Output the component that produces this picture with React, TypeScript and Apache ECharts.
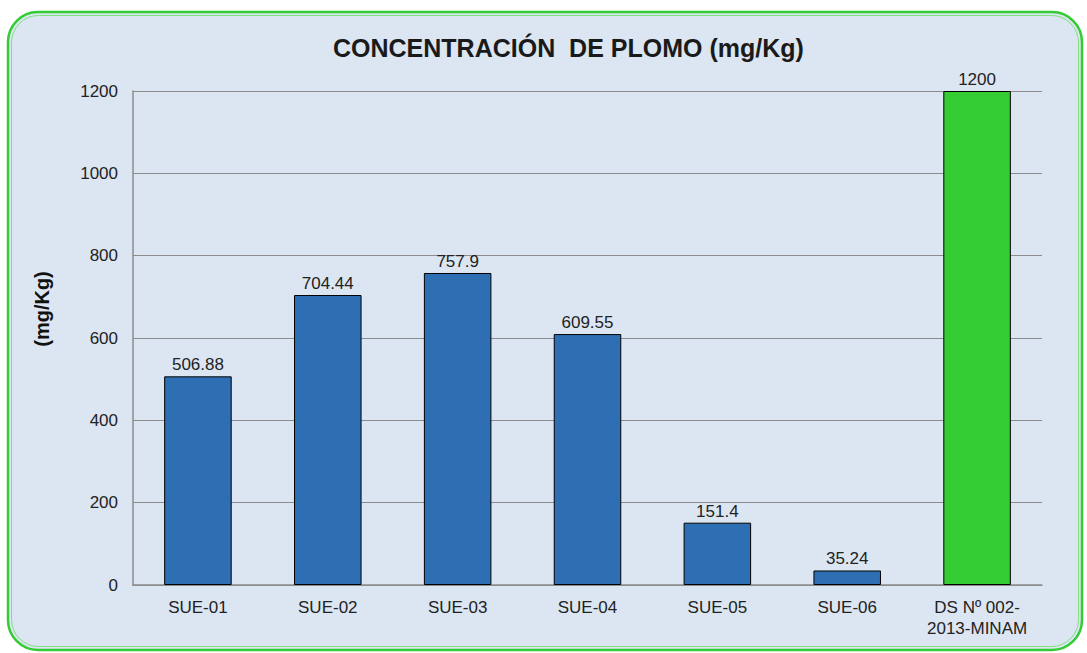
import React, { useEffect, useRef } from "react";
import * as echarts from "echarts";

const categories = ["SUE-01", "SUE-02", "SUE-03", "SUE-04", "SUE-05", "SUE-06", "DS Nº 002-\n2013-MINAM"];
const values = [506.88, 704.44, 757.9, 609.55, 151.4, 35.24, 1200];
const barColors = ["#2e6fb4", "#2e6fb4", "#2e6fb4", "#2e6fb4", "#2e6fb4", "#2e6fb4", "#33cc33"];
const titleText = "CONCENTRACIÓN  DE PLOMO (mg/Kg)";
const yAxisName = "(mg/Kg)";
const topText = "(mg/Kg)";

export default function App() {
  const ref = useRef<HTMLDivElement>(null);
  useEffect(() => {
    if (!ref.current) return;
    const chart = echarts.init(ref.current, null, { renderer: "svg" });
    const font = "'Liberation Sans', Arial, sans-serif";
    chart.setOption({
      animation: false,
      backgroundColor: "#ffffff",
      textStyle: { fontFamily: font },
      graphic: [
        {
          type: "rect",
          shape: { x: 8, y: 12, width: 1074, height: 638, r: 30 },
          style: { fill: "#dce6f2", stroke: "#33cc33", lineWidth: 2.5 },
          z: -10,
        },
        {
          type: "rect",
          shape: { x: 11.5, y: 15.5, width: 1067, height: 631, r: 27 },
          style: { fill: "none", stroke: "#7fe07f", lineWidth: 1 },
          z: -9,
        },
        {
          type: "text",
          x: 954,
          y: -32,
          style: { text: topText, font: `bold 30px ${font}`, fill: "#000", align: "center", verticalAlign: "top" },
        },
        {
          type: "text",
          x: 333,
          y: 48,
          style: { text: titleText, font: `bold 25px ${font}`, fill: "#1a1a1a", verticalAlign: "middle" },
        },
        {
          type: "text",
          x: 42,
          y: 309,
          rotation: Math.PI / 2,
          style: { text: yAxisName, font: `bold 20px ${font}`, fill: "#111", align: "center", verticalAlign: "middle" },
        },
      ],
      grid: { left: 133, right: 45, top: 91, bottom: 68 },
      xAxis: {
        type: "category",
        data: categories,
        axisLine: { lineStyle: { color: "#8c8c8c", width: 1.5 } },
        axisTick: { show: false },
        axisLabel: { color: "#222", fontSize: 17, margin: 12, lineHeight: 21, interval: 0 },
      },
      yAxis: {
        type: "value",
        min: 0,
        max: 1200,
        interval: 200,
        axisLine: { show: true, lineStyle: { color: "#8c8c8c", width: 1.5 } },
        axisTick: { show: false },
        axisLabel: { color: "#222", fontSize: 17, margin: 15, formatter: (v: number) => String(v) },
        splitLine: { lineStyle: { color: "#8c8c8c", width: 1 } },
      },
      series: [
        {
          type: "bar",
          barWidth: "52%",
          data: values.map((v, i) => ({
            value: v,
            itemStyle: { color: barColors[i], borderColor: "#000", borderWidth: 1 },
          })),
          label: { show: true, position: "top", color: "#222", fontSize: 17, distance: 3 },
        },
      ],
    });
    return () => chart.dispose();
  }, []);
  return <div ref={ref} style={{ position: "fixed", left: 0, top: 0, width: 1087, height: 653 }} />;
}
